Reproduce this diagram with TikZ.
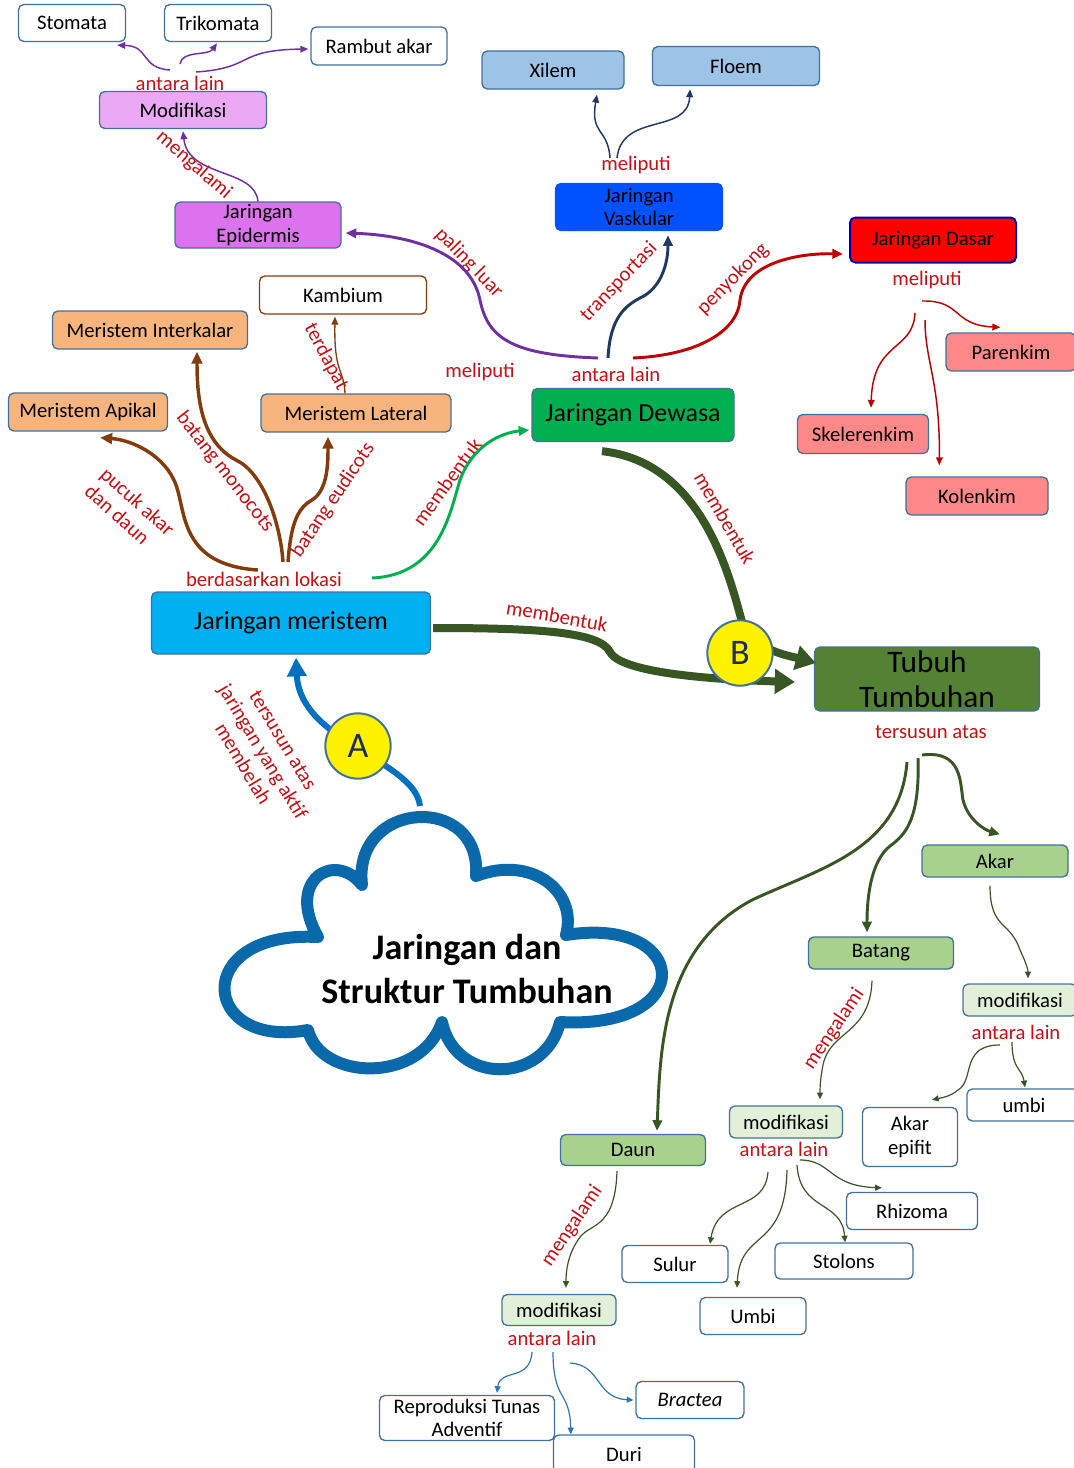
\documentclass[tikz,border=0pt]{standalone}
\usepackage{fontspec}
\setmainfont{Carlito}
\usetikzlibrary{arrows.meta,calc}
\definecolor{bord}{HTML}{41719C}
\definecolor{lblred}{HTML}{C80F14}
\definecolor{cpurple}{HTML}{7030A0}
\definecolor{cnavy}{HTML}{1F3864}
\definecolor{cred}{HTML}{C00000}
\definecolor{cbrown}{HTML}{843C0C}
\definecolor{cgreen}{HTML}{00B050}
\definecolor{cdkgreen}{HTML}{375623}
\definecolor{cblue}{HTML}{0070C0}
\definecolor{ccloud}{HTML}{0A69AA}
\definecolor{cthinblue}{HTML}{2E75B6}
\definecolor{fmodif}{HTML}{EBA8F4}
\definecolor{fepid}{HTML}{DD72EF}
\definecolor{fxil}{HTML}{9DC3E6}
\definecolor{fvask}{HTML}{0052FF}
\definecolor{fdasar}{HTML}{FF0000}
\definecolor{fpink}{HTML}{FF8989}
\definecolor{forange}{HTML}{F8B47D}
\definecolor{fdewasa}{HTML}{00B050}
\definecolor{fmeri}{HTML}{00B0F0}
\definecolor{ftubuh}{HTML}{548235}
\definecolor{fleaf}{HTML}{A9D18E}
\definecolor{fmodg}{HTML}{E2F0D9}
\definecolor{cbtext}{HTML}{1F2A5A}
\begin{document}
\begin{tikzpicture}[x=0.75pt,y=-0.75pt,
  box/.style={draw=bord, rounded corners=4pt, line width=1pt, align=center, inner sep=0.5pt, text=black, font=\fontsize{15.5}{17.5}\selectfont},
  wh/.style 2 args={minimum width=#1*0.75pt, minimum height=#2*0.75pt},
  lbl/.style={text=lblred, font=\fontsize{15.5}{17.5}\selectfont, inner sep=0pt},
  circ/.style={circle, draw=bord, line width=1.5pt, fill=yellow, minimum size=49pt, inner sep=0pt, text=cbtext, font=\fontsize{27}{29}\selectfont},
  pthin/.style={draw=cpurple, line width=1.1pt, -{Triangle[length=6pt,width=5pt]}},
  nthin/.style={draw=cnavy, line width=1.1pt, -{Triangle[length=6pt,width=5pt]}},
  rthin/.style={draw=cred, line width=1.1pt, -{Triangle[length=6pt,width=5pt]}},
  gthin/.style={draw=cdkgreen, line width=0.9pt, -{Triangle[length=5pt,width=4.5pt]}},
  bthin/.style={draw=cthinblue, line width=0.9pt, -{Triangle[length=5pt,width=4.5pt]}},
  medium/.style={line width=2.2pt, -{Triangle[length=8pt,width=7pt]}},
  brownthick/.style={draw=cbrown, line width=2.6pt, -{Triangle[length=9pt,width=8pt]}},
  dkthick/.style={draw=cdkgreen, line width=6pt, -{Triangle[length=15pt,width=18pt]}},
  dkmed/.style={draw=cdkgreen, line width=2.2pt, -{Triangle[length=8pt,width=7pt]}}
]
\useasboundingbox (0,0) rectangle (1074,1468);

% ---------- top: epidermis ----------
\node[box,wh={107}{37}] (stomata) at (72,23) {Stomata};
\node[box,wh={107}{37}] (trikomata) at (218,23) {Trikomata};
\node[box,wh={136}{38}] (rambut) at (379,46) {Rambut akar};
\node[lbl] (al1) at (180,83) {antara lain};
\node[box,fill=fmodif,wh={167}{37}] (modif) at (183,110) {Modifikasi};
\node[lbl,rotate=-41] (mg1) at (194,165) {mengalami};
\node[box,fill=fepid,wh={166}{46}] (epid) at (258,225) {Jaringan\\Epidermis};

% ---------- vascular ----------
\node[box,fill=fxil,wh={142}{38}] (xilem) at (553,70) {Xilem};
\node[box,fill=fxil,wh={167}{39}] (floem) at (736,66) {Floem};
\node[lbl] (ml1) at (636,165) {meliputi};
\node[box,fill=fvask,draw=fvask,wh={167}{47}] (vask) at (639,207) {Jaringan\\Vaskular};

% ---------- dasar ----------
\node[box,fill=fdasar,draw=blue!70!black,line width=1.5pt,wh={166}{45}] (dasar) at (933,240) {Jaringan Dasar};
\node[lbl] (ml2) at (927,280) {meliputi};
\node[box,fill=fpink,wh={130}{38}] (parenkim) at (1011,352) {Parenkim};
\node[box,fill=fpink,wh={131}{39}] (skel) at (863,434) {Skelerenkim};
\node[box,fill=fpink,wh={142}{38}] (kolen) at (977,496) {Kolenkim};

% ---------- labels around dewasa ----------
\node[lbl,rotate=-46] (pl) at (469,263) {paling luar};
\node[lbl,rotate=46] (tr) at (619,282) {transportasi};
\node[lbl,rotate=45] (pk) at (733,279) {penyokong};
\node[lbl] (ml3) at (480,372) {meliputi};
\node[lbl] (al2) at (616,374) {antara lain};
\node[box,fill=fdewasa,wh={202}{53},font=\fontsize{19.5}{22}\selectfont] (dewasa) at (633,415) {Jaringan Dewasa};

% ---------- meristem ----------
\node[box,draw=cbrown,wh={167}{38}] (kamb) at (343,295) {Kambium};
\node[box,fill=forange,wh={195}{38}] (inter) at (150,330) {Meristem Interkalar};
\node[box,fill=forange,wh={159}{38}] (apik) at (88,412) {Meristem Apikal};
\node[box,fill=forange,wh={190}{38}] (lat) at (356,413) {Meristem Lateral};
\node[lbl,rotate=-62] (td) at (326,357) {terdapat};
\node[lbl,rotate=-52] (bm) at (225,472) {batang monocots};
\node[lbl,rotate=56] (be) at (333,500) {batang eudicots};
\node[lbl,rotate=-42,align=left] (pa) at (130,510) {pucuk akar\\dan daun};
\node[lbl] (bl) at (264,579) {berdasarkan lokasi};
\node[lbl,rotate=54] (mb1) at (447,482) {membentuk};
\node[box,fill=fmeri,wh={279}{62},font=\fontsize{19.5}{22}\selectfont] (meristem) at (291,623) {Jaringan meristem};

% ---------- tubuh ----------
\node[lbl,rotate=-60] (mb2) at (725,518) {membentuk};
\node[lbl,rotate=-10] (mb3) at (557,616) {membentuk};
\node[box,fill=ftubuh,wh={225}{64},inner sep=0pt,font=\fontsize{23.5}{26.5}\selectfont] (tubuh) at (927,679) {Tubuh\\Tumbuhan};
\node[lbl] (ts) at (931,732) {tersusun atas};
\node[lbl,rotate=-59,align=center] (tsa) at (263,752) {tersusun atas\\jaringan yang aktif\\membelah};

% ---------- bottom right ----------
\node[box,fill=fleaf,wh={146}{32}] (akar) at (995,861) {Akar};
\node[box,fill=fleaf,wh={145}{32}] (batang) at (881,953) {Batang};
\node[box,fill=fleaf,wh={145}{31}] (daun) at (633,1150) {Daun};
\node[box,fill=fmodg,wh={114}{32}] (modakar) at (1020,1000) {modifikasi};
\node[lbl] (al3) at (1016,1032) {antara lain};
\node[box,wh={114}{32}] (umbi1) at (1024,1105) {umbi};
\node[box,wh={95}{59}] (epifit) at (910,1137) {Akar\\epifit};
\node[lbl,rotate=56] (mg2) at (834,1029) {mengalami};
\node[box,fill=fmodg,wh={113}{32}] (modbatang) at (786,1122) {modifikasi};
\node[lbl] (al4) at (784,1149) {antara lain};
\node[box,wh={131}{37}] (rhizoma) at (912,1211) {Rhizoma};
\node[box,wh={138}{36}] (stolons) at (844,1261) {Stolons};
\node[box,wh={106}{37}] (sulur) at (675,1264) {Sulur};
\node[box,wh={106}{37}] (umbi2) at (753,1316) {Umbi};
\node[lbl,rotate=56] (mg3) at (572,1226) {mengalami};
\node[box,fill=fmodg,wh={114}{31}] (moddaun) at (559,1310) {modifikasi};
\node[lbl] (al5) at (552,1338) {antara lain};
\node[box,wh={175}{45}] (repro) at (467,1418) {Reproduksi Tunas\\Adventif};
\node[box,wh={141}{38}] (duri) at (624,1454) {Duri};
\node[box,wh={108}{37}] (bractea) at (690,1400) {\itshape Bractea};

% ---------- cloud ----------
\draw[draw=ccloud, fill=white, line width=9pt, line join=round]
  (362,885) .. controls (352,800) and (482,792) .. (476,876)
  .. controls (530,855) and (578,890) .. (566,935)
  .. controls (690,915) and (700,1030) .. (560,1022)
  .. controls (545,1085) and (455,1085) .. (442,1022)
  .. controls (420,1085) and (320,1080) .. (308,1030)
  .. controls (200,1050) and (190,930) .. (318,937)
  .. controls (285,880) and (335,850) .. (362,885) -- cycle;
\node[font=\bfseries\fontsize{27}{33}\selectfont, align=center, text=black] (title) at (467,969) {Jaringan dan\\Struktur Tumbuhan};
\coordinate (cloudtop) at (420,806);

% ---------- free start points ----------
\coordinate (s1) at (170,70);
\coordinate (s2) at (180,64);
\coordinate (s3) at (196,72);
\coordinate (vm1) at (610,158);
\coordinate (vm2) at (617,158);
\coordinate (d1) at (598,358);
\coordinate (d2) at (608,358);
\coordinate (d3) at (633,358);
\coordinate (r1) at (922,301);
\coordinate (r2) at (915,313);
\coordinate (r3) at (925,320);
\coordinate (b1) at (258,570);
\coordinate (b2) at (283,562);
\coordinate (b3) at (288,562);
\coordinate (g1) at (372,578);
\coordinate (t1) at (907,762);
\coordinate (t2) at (918,758);
\coordinate (t3) at (922,755);
\coordinate (a1) at (1000,1045);
\coordinate (a2) at (1012,1042);
\coordinate (m1) at (768,1172);
\coordinate (m2) at (787,1170);
\coordinate (m3) at (797,1165);
\coordinate (m4) at (800,1160);
\coordinate (c1) at (532,1352);
\coordinate (c2) at (553,1352);
\coordinate (c3) at (570,1363);

% ---------- connectors ----------
\draw[pthin] (s1) .. controls (140,68) and (150,46) .. ($(stomata.south east)+(-9,3)$);
\draw[pthin] (s2) .. controls (182,50) and (208,56) .. ($(trikomata.south)+(-1,1)$);
\draw[pthin] (s3) .. controls (255,68) and (235,50) .. ($(rambut.west)+(-2,3)$);
\draw[pthin] (epid.north) .. controls (255,168) and (188,178) .. ($(modif.south)+(0,2)$);

\draw[nthin] (vm1) .. controls (608,128) and (590,135) .. ($(xilem.south)+(44,5)$);
\draw[nthin] (vm2) .. controls (622,112) and (688,135) .. ($(floem.south)+(-46,3)$);

\draw[medium,draw=cpurple] (d1) .. controls (515,355) and (488,340) .. (480,300)
  .. controls (470,250) and (405,235) .. ($(epid.east)+(4,8)$);
\draw[medium,draw=cnavy] (d2) .. controls (610,318) and (625,306) .. (640,298)
  .. controls (662,288) and (668,262) .. ($(vask.south)+(29,4)$);
\draw[medium,draw=cred] (d3) .. controls (700,355) and (738,330) .. (740,300)
  .. controls (745,262) and (800,253) .. ($(dasar.west)+(-6,14)$);

\draw[rthin] (r1) .. controls (962,300) and (952,325) .. ($(parenkim.north west)+(55,-5)$);
\draw[rthin] (r2) .. controls (913,352) and (873,340) .. ($(skel.north)+(8,-6)$);
\draw[rthin] (r3) .. controls (925,362) and (940,380) .. ($(kolen.north west)+(34,-11)$);

\draw[draw=cbrown, line width=1pt, -{Triangle[length=6pt,width=5pt]}] ($(lat.north)+(-11,0)$) .. controls (344,368) and (334,375) .. ($(kamb.south)+(-8,2)$);
\draw[brownthick] (b1) .. controls (180,565) and (186,512) .. (176,485)
  .. controls (165,455) and (132,440) .. ($(apik.south east)+(-68,6)$);
\draw[brownthick] (b2) .. controls (280,520) and (262,472) .. (236,460)
  .. controls (202,442) and (197,400) .. ($(inter.south)+(47,2)$);
\draw[brownthick] (b3) .. controls (291,522) and (298,508) .. (312,500)
  .. controls (328,490) and (328,462) .. ($(lat.south)+(-28,4)$);

\draw[medium,draw=cgreen] (g1) .. controls (440,575) and (450,512) .. (460,480)
  .. controls (475,440) and (508,432) .. ($(dewasa.west)+(-2,15)$);

\draw[dkthick] ($(meristem.east)+(2,5)$) .. controls (540,628) and (600,632) .. (610,652)
  .. controls (622,675) and (730,680) .. ($(tubuh.west)+(-19,3)$);
\draw[dkthick] ($(dewasa.south)+(-31,9)$) .. controls (700,462) and (728,570) .. (742,622)
  .. controls (752,650) and (790,656) .. ($(tubuh.west)+(2,-16)$);

\draw[draw=cblue, line width=4.5pt, -{Triangle[length=14pt,width=14pt]}] (cloudtop) .. controls (415,760) and (300,742) .. ($(meristem.south)+(5,3)$);

\draw[dkmed] (t1) .. controls (900,850) and (820,868) .. (752,900)
  .. controls (662,948) and (660,1050) .. ($(daun.north)+(24,-3)$);
\draw[dkmed] (t2) .. controls (920,820) and (905,835) .. (890,846)
  .. controls (870,862) and (867,900) .. ($(batang.north)+(-14,-4)$);
\draw[dkmed] (t3) .. controls (962,750) and (960,782) .. (963,800)
  .. controls (968,820) and (985,830) .. ($(akar.north)+(5,-10)$);

\draw[gthin] ($(akar.south)+(-5,8)$) .. controls (990,930) and (1010,920) .. (1020,950)
  .. controls (1027,965) and (1028,970) .. ($(modakar.north)+(8,-5)$);
\draw[gthin] ($(batang.south)+(-9,11)$) .. controls (870,1035) and (830,1030) .. (823,1065)
  .. controls (820,1080) and (820,1090) .. ($(modbatang.north)+(34,-6)$);
\draw[gthin] ($(daun.south)+(-16,5)$) .. controls (615,1232) and (588,1222) .. (578,1240)
  .. controls (568,1255) and (566,1270) .. ($(moddaun.north)+(7,-6)$);
\draw[gthin] (a1) .. controls (960,1045) and (975,1080) .. (958,1090)
  .. controls (950,1097) and (940,1098) .. ($(epifit.north)+(22,-7)$);
\draw[gthin] (a2) .. controls (1012,1070) and (1022,1068) .. ($(umbi1.north)+(1,-1)$);
\draw[gthin] (m1) .. controls (765,1212) and (718,1196) .. ($(sulur.north)+(35,-1)$);
\draw[gthin] (m2) .. controls (785,1252) and (740,1228) .. ($(umbi2.north)+(-16,-9)$);
\draw[gthin] (m3) .. controls (800,1212) and (842,1200) .. ($(stolons.north)+(1,0)$);
\draw[gthin] (m4) .. controls (832,1160) and (828,1186) .. ($(rhizoma.north west)+(36,-4)$);

\draw[bthin] (c1) .. controls (530,1382) and (500,1368) .. ($(repro.north)+(30,-2)$);
\draw[bthin] (c2) .. controls (553,1402) and (570,1390) .. ($(duri.north west)+(18,0)$);
\draw[bthin] (c3) .. controls (602,1365) and (595,1398) .. ($(bractea.west)+(-2,0)$);

% ---------- circles on top ----------
\node[circ] (cA) at (358,746) {A};
\node[circ] (cB) at (740,653) {B};
\end{tikzpicture}
\end{document}
